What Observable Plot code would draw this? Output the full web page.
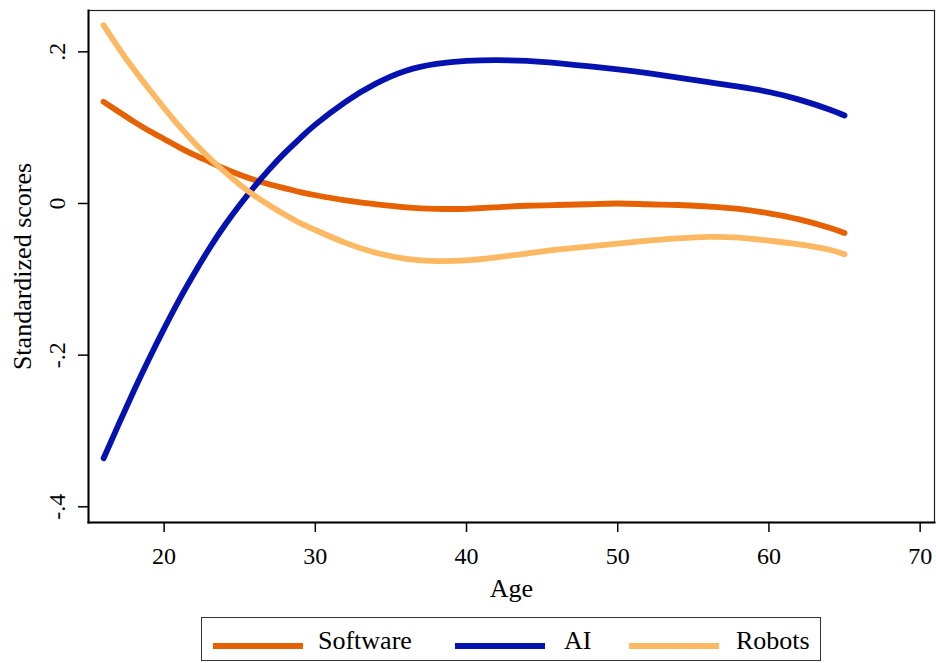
<!DOCTYPE html>
<html>
<head>
<meta charset="utf-8">
<script src="https://cdn.jsdelivr.net/npm/d3@7"></script>
<script src="https://cdn.jsdelivr.net/npm/@observablehq/plot@0.6"></script>
<style>
  html, body { margin: 0; padding: 0; background: #fff; }
  #wrap { position: relative; width: 936px; height: 663px; overflow: hidden; font-family: "Liberation Serif", serif; }
  #legend { position: absolute; left: 201px; top: 617px; width: 620px; height: 44px; border: 1.5px solid #333; box-sizing: border-box; background: #fff; }
  .key { position: absolute; top: 25px; width: 90px; height: 6px; }
  .lab { position: absolute; top: 8px; font-size: 26px; line-height: 30px; color: #000; }
</style>
</head>
<body>
<div id="wrap">
  <div id="chart"></div>
  <div id="legend"></div>
</div>
<script>
// Fitted standardized scores by age, one array per technology
const ages = [16, 17, 18, 19, 20, 21, 22, 23, 24, 25, 26, 27, 28, 29, 30, 32, 34, 36, 38, 40, 42, 44, 46, 48, 50, 52, 54, 56, 58, 60, 62, 64, 65];
const software = [0.134, 0.121, 0.108, 0.096, 0.085, 0.074, 0.064, 0.055, 0.046, 0.038, 0.031, 0.025, 0.020, 0.015, 0.011, 0.004, -0.001, -0.005, -0.007, -0.007, -0.005, -0.003, -0.002, -0.001, 0.000, -0.001, -0.002, -0.004, -0.007, -0.013, -0.021, -0.032, -0.039];
const ai = [-0.336, -0.291, -0.247, -0.205, -0.165, -0.127, -0.092, -0.059, -0.029, -0.002, 0.023, 0.046, 0.067, 0.086, 0.104, 0.134, 0.158, 0.175, 0.184, 0.188, 0.189, 0.188, 0.185, 0.181, 0.177, 0.172, 0.166, 0.160, 0.154, 0.147, 0.137, 0.124, 0.116];
const robots = [0.235, 0.205, 0.177, 0.151, 0.126, 0.102, 0.080, 0.060, 0.042, 0.025, 0.010, -0.003, -0.015, -0.026, -0.035, -0.052, -0.065, -0.073, -0.076, -0.075, -0.071, -0.066, -0.061, -0.057, -0.053, -0.049, -0.046, -0.044, -0.045, -0.049, -0.054, -0.061, -0.067];

const seriesNames = ["Software", "AI", "Robots"];
const seriesColors = ["#e66101", "#0512b0", "#fdb863"];

const xTicks = [20, 30, 40, 50, 60, 70];
const yTicks = [-0.4, -0.2, 0, 0.2];
const yTickLabels = ["-.4", "-.2", "0", ".2"];

const rows = [];
[software, ai, robots].forEach((vals, s) => {
  vals.forEach((v, i) => rows.push({series: seriesNames[s], age: ages[i], value: v}));
});

const yLabelOf = new Map(yTicks.map((t, i) => [t, yTickLabels[i]]));

const chart = Plot.plot({
  width: 936,
  height: 612,
  marginLeft: 88,
  marginRight: 2,
  marginTop: 10,
  marginBottom: 90,
  style: {fontFamily: "Liberation Serif, serif", fontSize: "24px", background: "#fff", color: "#000"},
  x: {domain: [15, 70.95]},
  y: {domain: [-0.4207, 0.2545]},
  color: {domain: seriesNames, range: seriesColors},
  marks: [
    Plot.frame({stroke: "#222", strokeWidth: 1.2}),
    Plot.frame({anchor: "left", stroke: "#000", strokeWidth: 2}),
    Plot.frame({anchor: "bottom", stroke: "#000", strokeWidth: 2}),
    Plot.axisX({ticks: xTicks, tickSize: 10, tickPadding: 14, strokeWidth: 1.5,
      label: "Age", labelAnchor: "center", labelArrow: "none", labelOffset: 74, fontSize: 24}),
    Plot.axisY({ticks: yTicks, tickFormat: d => yLabelOf.get(d), tickRotate: -90, tickSize: 10, tickPadding: 14, strokeWidth: 1.5,
      label: "Standardized scores", labelAnchor: "center", labelArrow: "none", labelOffset: 76, fontSize: 24}),
    Plot.line(rows, {x: "age", y: "value", z: "series", stroke: "series", strokeWidth: 5.8, curve: "natural"})
  ]
});
chart.querySelectorAll("[aria-label='x-axis label'] text, [aria-label='y-axis label'] text").forEach(t => t.setAttribute("font-size", "26"));
document.getElementById("chart").appendChild(chart);

// Legend below the plot
const legend = document.getElementById("legend");
const keyLeft = [11, 253, 427];
const labLeft = [116, 362, 534];
seriesNames.forEach((name, i) => {
  const k = document.createElement("div");
  k.className = "key";
  k.style.left = keyLeft[i] + "px";
  k.style.background = seriesColors[i];
  legend.appendChild(k);
  const l = document.createElement("div");
  l.className = "lab";
  l.style.left = labLeft[i] + "px";
  l.textContent = name;
  legend.appendChild(l);
});
</script>
</body>
</html>
